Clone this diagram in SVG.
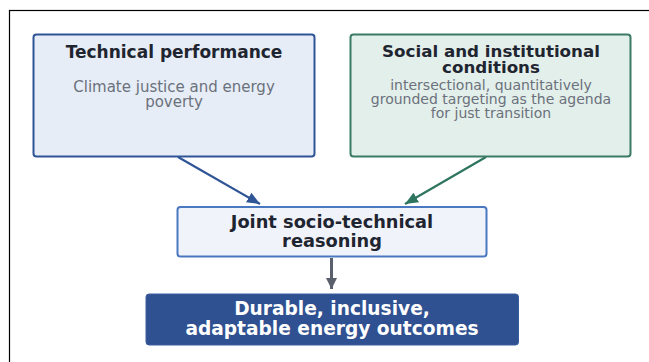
<svg xmlns="http://www.w3.org/2000/svg" width="649" height="362" viewBox="0 0 649 362">
<style>
.title{font-family:"DejaVu Sans",sans-serif;font-weight:bold;fill:#1f2530;text-anchor:middle}
.sub{font-family:"DejaVu Sans",sans-serif;fill:#6b717c;text-anchor:middle}
.white{font-family:"DejaVu Sans",sans-serif;font-weight:bold;fill:#ffffff;text-anchor:middle}
</style>
<defs>
<marker id="hb" markerUnits="userSpaceOnUse" markerWidth="13" markerHeight="11" refX="13" refY="5.5" orient="auto"><path d="M0,0 L13,5.5 L0,11 z" fill="#2f5597"/></marker>
<marker id="hg" markerUnits="userSpaceOnUse" markerWidth="13" markerHeight="11" refX="13" refY="5.5" orient="auto"><path d="M0,0 L13,5.5 L0,11 z" fill="#2e7560"/></marker>
<marker id="hk" markerUnits="userSpaceOnUse" markerWidth="11" markerHeight="11" refX="11" refY="5.5" orient="auto"><path d="M0,0 L11,5.5 L0,11 z" fill="#5a606b"/></marker>
</defs>
<rect x="0" y="0" width="649" height="362" fill="#ffffff"/>
<rect x="9.5" y="10.5" width="660" height="380" fill="none" stroke="#000000" stroke-width="1.2"/>
<g id="connectors">
<line x1="178" y1="157" x2="260" y2="204" stroke="#2f5597" stroke-width="2.2" marker-end="url(#hb)"/>
<line x1="486" y1="157" x2="405" y2="204" stroke="#2e7560" stroke-width="2.2" marker-end="url(#hg)"/>
<line x1="331.5" y1="258" x2="331.5" y2="289" stroke="#5a606b" stroke-width="3" marker-end="url(#hk)"/>
</g>
<g id="technical">
<rect x="33.5" y="34.5" width="281" height="122" rx="3" fill="#e6edf6" stroke="#2f5597" stroke-width="2"/>
<text class="title" x="174" y="58" font-size="17">Technical performance</text>
<text class="sub" x="174" y="91.5" font-size="15">Climate justice and energy</text>
<text class="sub" x="174" y="107" font-size="15">poverty</text>
</g>
<g id="social">
<rect x="350.5" y="34.5" width="280" height="122" rx="3" fill="#e3efea" stroke="#3b7a65" stroke-width="2"/>
<text class="title" x="491" y="56.5" font-size="16.7">Social and institutional</text>
<text class="title" x="491" y="72.5" font-size="16.7">conditions</text>
<text class="sub" x="491" y="90.3" font-size="14">intersectional, quantitatively</text>
<text class="sub" x="491" y="104.3" font-size="14">grounded targeting as the agenda</text>
<text class="sub" x="491" y="118.3" font-size="14">for just transition</text>
</g>
<g id="joint">
<rect x="177.5" y="207" width="309" height="49.5" rx="3" fill="#f0f4fa" stroke="#4a78c0" stroke-width="2"/>
<text class="title" x="332" y="227.7" font-size="17.8">Joint socio-technical</text>
<text class="title" x="332" y="246.7" font-size="17.8">reasoning</text>
</g>
<g id="outcomes">
<rect x="146" y="294" width="372.5" height="51" rx="3" fill="#2f5191" stroke="#3c5e9e" stroke-width="1"/>
<text class="white" x="332" y="315.3" font-size="18.6">Durable, inclusive,</text>
<text class="white" x="332" y="335.3" font-size="18.6">adaptable energy outcomes</text>
</g>
</svg>
